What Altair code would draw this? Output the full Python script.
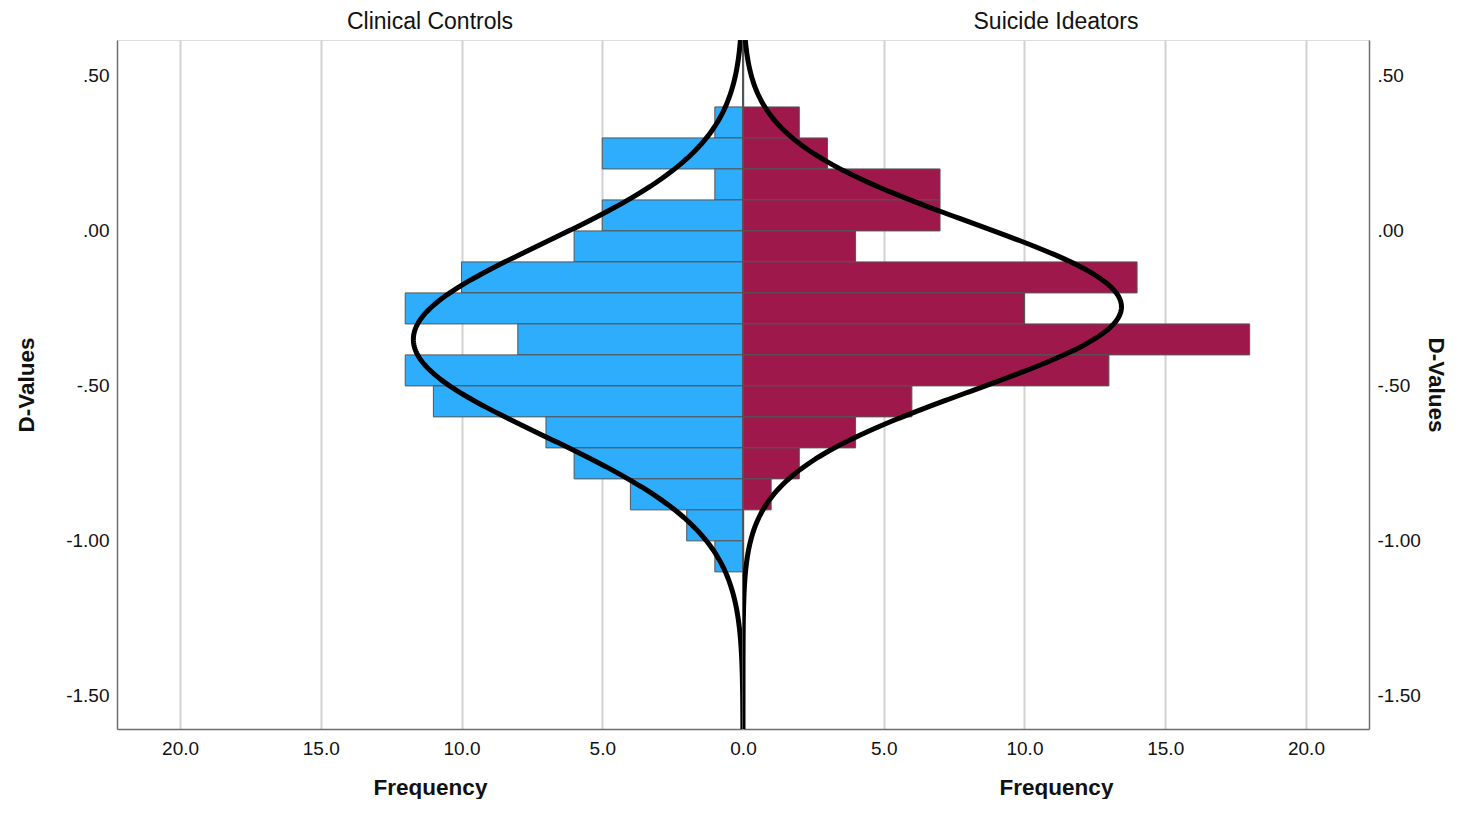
import altair as alt
import pandas as pd

# ---- data ----
bin_start = [0.3, 0.2, 0.1, 0.0, -0.1, -0.2, -0.3, -0.4, -0.5, -0.6, -0.7, -0.8, -0.9, -1.0, -1.1]
controls = [1, 5, 1, 5, 6, 10, 12, 8, 12, 11, 7, 6, 4, 2, 1]
ideators = [2, 3, 7, 7, 4, 14, 10, 18, 13, 6, 4, 2, 1, 0, 0]
bin_width = 0.1

# fitted normal curves (mean, sd, n)
fit_controls = (-0.35, 0.31, 91)
fit_ideators = (-0.245, 0.27, 91)

y_ticks = [0.5, 0.0, -0.5, -1.0, -1.5]
x_ticks = [0, 5, 10, 15, 20]

Y_DOMAIN = [-1.607, 0.616]
X_DOMAIN = [0, 22.24]

FONT = "Liberation Sans"
BLUE = "#2EADFD"
CRIMSON = "#9F184B"

YLABEL = "replace(replace(format(datum.value, '.2f'), '0.', '.'), '\u2212', '-')"


def panel(counts, fit, title, reverse, orient, color):
    df = pd.DataFrame({
        "lo": bin_start,
        "hi": [b + bin_width for b in bin_start],
        "count": counts,
    })
    df = df[df["count"] > 0]

    # the shared 0.0 label is drawn once, by the left panel
    xlabel = "format(datum.value, '.1f')" if reverse else \
        "datum.value == 0 ? '' : format(datum.value, '.1f')"

    xaxis = alt.Axis(
        values=x_ticks, labelExpr=xlabel, title="Frequency", grid=True,
        gridColor="#d2d2d2", gridWidth=2, ticks=False, domainColor="#6e6e6e",
        domainWidth=1.5, labelFontSize=19, labelPadding=10, labelColor="#111",
        labelFlush=False,
        titleFontSize=22.5, titleFontWeight="bold", titlePadding=18, titleColor="#111",
    )
    xscale = alt.Scale(domain=X_DOMAIN, reverse=reverse, nice=False, zero=True)

    if orient == "left":
        yaxis = alt.Axis(
            orient="left", values=y_ticks, labelExpr=YLABEL,
            grid=False, ticks=False, domainColor="#6e6e6e", domainWidth=1.5,
            labelFontSize=19, labelPadding=8, labelColor="#111",
            title="D-Values", titleFontSize=22.5, titleFontWeight="bold",
            titlePadding=27, titleColor="#111",
        )
    else:
        yaxis = alt.Axis(
            orient="right", values=y_ticks, labelExpr=YLABEL,
            grid=False, ticks=False, domainColor="#6e6e6e", domainWidth=1.5,
            labelFontSize=19, labelPadding=8, labelColor="#111",
            title="D-Values", titleFontSize=22.5, titleFontWeight="bold",
            titlePadding=3, titleAngle=90, titleColor="#111",
        )
    yscale = alt.Scale(domain=Y_DOMAIN, nice=False, zero=False)

    bars = alt.Chart(df).mark_bar(
        color=color, stroke="#555555", strokeWidth=1
    ).encode(
        x=alt.X("count:Q", scale=xscale, axis=xaxis),
        x2=alt.datum(0),
        y=alt.Y("lo:Q", scale=yscale, axis=yaxis),
        y2="hi:Q",
    )

    zero = alt.Chart(df).mark_rule(color="#555555", strokeWidth=1).encode(
        x=alt.datum(0),
    )

    mean, sd, n = fit
    curve = alt.Chart(
        alt.sequence(Y_DOMAIN[0], Y_DOMAIN[1] + 0.002, 0.004, as_="d")
    ).transform_calculate(
        f=f"{n} * {bin_width} * exp(-0.5 * pow((datum.d - ({mean})) / {sd}, 2)) / ({sd} * sqrt(2 * PI))"
    ).mark_line(color="black", strokeWidth=5, clip=True).encode(
        x=alt.X("f:Q", scale=xscale, axis=xaxis),
        y=alt.Y("d:Q", scale=yscale, axis=yaxis),
        order="d:Q",
    )

    return alt.layer(bars, zero, curve).properties(
        width=626, height=689,
        title=alt.TitleParams(title, fontSize=23, fontWeight="normal",
                              font=FONT, offset=6, color="#111"),
    )


left = panel(controls, fit_controls, "Clinical Controls", True, "left", BLUE)
right = panel(ideators, fit_ideators, "Suicide Ideators", False, "right", CRIMSON)

chart = alt.hconcat(left, right, spacing=0, bounds="flush").properties(
    padding={"left": 7, "top": 2, "right": 3, "bottom": 0}
).configure_view(stroke=None).configure(font=FONT)

chart.save("out.html", embed_options={"renderer": "svg", "actions": False})
